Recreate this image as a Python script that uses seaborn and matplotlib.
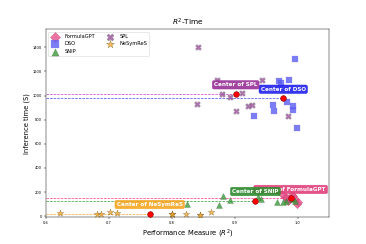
import numpy as np
import pandas as pd
import matplotlib
matplotlib.use('Agg')
import matplotlib.pyplot as plt
import seaborn as sns

# R^2 and inference time (S) for each method
formulagpt_r2 = [0.980, 0.985, 0.990, 0.995, 1.000, 0.983, 0.992, 0.998, 0.987, 0.975]
formulagpt_time = [160, 130, 175, 140, 120, 150, 165, 100, 145, 185]

dso_r2 = [0.996, 0.974, 0.986, 0.960, 0.962, 0.930, 0.982, 0.992, 0.993, 0.999, 0.970]
dso_time = [1306, 1106, 1128, 925, 869, 828, 944, 917, 883, 731, 1120]

snip_r2 = [0.824, 0.875, 0.881, 0.892, 0.941, 0.967, 0.981, 0.936, 0.977, 0.990, 0.995]
snip_time = [100, 92, 169, 133, 146, 117, 125, 160, 120, 140, 128]

spl_r2 = [0.842, 0.872, 0.943, 0.879, 0.893, 0.912, 0.840, 0.902, 0.921, 0.927, 0.984]
spl_time = [1402, 1133, 1128, 1014, 986, 1022, 931, 869, 917, 925, 833]

nesymres_r2 = [0.622, 0.681, 0.688, 0.702, 0.713, 0.800, 0.800, 0.822, 0.844, 0.844, 0.862, 0.800]
nesymres_time = [28, 17, 17, 31, 25, 22, 22, 17, 14, 14, 36, 22]

methods = ['FormulaGPT', 'DSO', 'SNIP', 'SPL', 'NeSymReS']
r2_values = [formulagpt_r2, dso_r2, snip_r2, spl_r2, nesymres_r2]
time_values = [formulagpt_time, dso_time, snip_time, spl_time, nesymres_time]
markers = ['D', 's', '^', 'X', '*']
colors = ['#e8508a', '#5b5bf0', '#3c9a3c', '#9a4f9a', '#f0a830']
edges = ['#c03060', '#8080ff', '#2a6a2a', '#777777', '#6b4a10']
label_colors = ['#e0407a', '#2020ee', '#2e8b2e', '#993399', '#f5a623']
line_colors = ['#ff3080', '#4040ff', '#2e9b2e', '#cc33cc', '#f5a623']
sizes = [110, 110, 110, 110, 150]

fig, ax = plt.subplots(figsize=(9, 6), dpi=366 / 9)

for name, xs, ys, m, c, e, s in zip(methods, r2_values, time_values, markers, colors, edges, sizes):
    df = pd.DataFrame({'r2': xs, 'time': ys})
    sns.scatterplot(x='r2', y='time', data=df, marker=m, color=c, edgecolor=e,
                    linewidth=0.6, s=s, alpha=0.8, label=name, ax=ax, zorder=3)

# Center of each method: dashed line from the left edge, red dot and label
for name, xs, ys, lc, llc in zip(methods, r2_values, time_values, label_colors, line_colors):
    cx, cy = np.mean(xs), np.mean(ys)
    ax.hlines(cy, 0.6, cx, colors=llc, linestyles='dashed', linewidth=1.2, zorder=2)
    ax.scatter([cx], [cy], color='red', edgecolor='#800000', s=100, zorder=5)
    ax.annotate('Center of ' + name, (cx, cy), xytext=(0, 16), textcoords='offset points',
                ha='center', va='center', fontsize=10, fontweight='bold', color='white', zorder=6,
                bbox=dict(boxstyle='round,pad=0.3', fc=lc, ec=lc, alpha=0.9))

ax.set_xlim(0.6, 1.05)
ax.set_ylim(-8, 1550)
ax.set_xticks([0.6, 0.7, 0.8, 0.9, 1.0])
ax.tick_params(labelsize=6.5)
ax.set_title(r'$R^2$-Time', fontsize=13)
ax.set_xlabel(r'Performance Measure ($R^2$)', fontsize=12)
ax.set_ylabel('Inference time (S)', fontsize=12)
ax.legend(loc='upper left', ncol=2, fontsize=9, markerscale=1.2)

plt.savefig('out.png')
